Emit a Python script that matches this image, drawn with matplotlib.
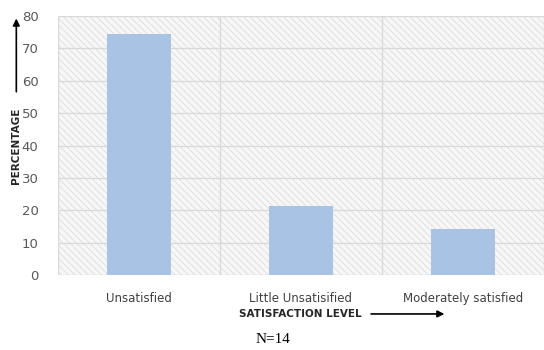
import matplotlib.pyplot as plt
from matplotlib.patches import Rectangle

categorias = ["Unsatisfied", "Little Unsatisified", "Moderately satisfied"]
percentagem = [74.5, 21.4, 14.2]
yticks = [0, 10, 20, 30, 40, 50, 60, 70, 80]

plt.rcParams['hatch.color'] = '#dcdcdc'
plt.rcParams['hatch.linewidth'] = 0.6

fig = plt.figure(figsize=(5.44, 3.5), dpi=100)
ax = fig.add_axes([0.1066, 0.214, 0.8934, 0.74])

# fundo hachurado
fundo = Rectangle((0, 0), 1, 1, transform=ax.transAxes, facecolor='#f7f7f7',
                  edgecolor='#dcdcdc', hatch='\\\\\\\\\\', linewidth=0, zorder=0)
ax.add_patch(fundo)

x = list(range(len(categorias)))
ax.bar(x, percentagem, width=0.4, color='#a9c3e5', zorder=3)

ax.set_xlim(-0.5, 2.5)
ax.set_ylim(0, 80)
ax.set_yticks(yticks)
ax.set_xticks(x)
ax.set_xticklabels(categorias, fontsize=8.5, color='#404040')
ax.tick_params(axis='y', labelsize=9.5, colors='#595959', length=0, pad=14)
ax.tick_params(axis='x', length=0, pad=12)

# grade
for y in yticks:
    ax.axhline(y, color='#d9d9d9', linewidth=1, zorder=1)
for xv in [-0.5, 0.5, 1.5, 2.5]:
    ax.axvline(xv, color='#d9d9d9', linewidth=1, zorder=1)

for s in ax.spines.values():
    s.set_visible(False)

# rotulos com setas
fig.text(0.03, 0.583, "PERCENTAGE", rotation=90, fontsize=7.5, fontweight='bold',
         color='#262626', ha='center', va='center')
ax.annotate("", xy=(0.03, 0.955), xytext=(0.03, 0.73), xycoords='figure fraction',
            arrowprops=dict(arrowstyle='-|>', color='black', lw=1.2, mutation_scale=10))
fig.text(0.44, 0.103, "SATISFACTION LEVEL", fontsize=7.5, fontweight='bold',
         color='#262626', ha='left', va='center')
ax.annotate("", xy=(0.822, 0.103), xytext=(0.677, 0.103), xycoords='figure fraction',
            arrowprops=dict(arrowstyle='-|>', color='black', lw=1.2, mutation_scale=10))
fig.text(0.47, 0.03, "N=14", fontsize=11, family='Liberation Serif',
         color='black', ha='left', va='center')

plt.savefig("out.png", dpi=100)
